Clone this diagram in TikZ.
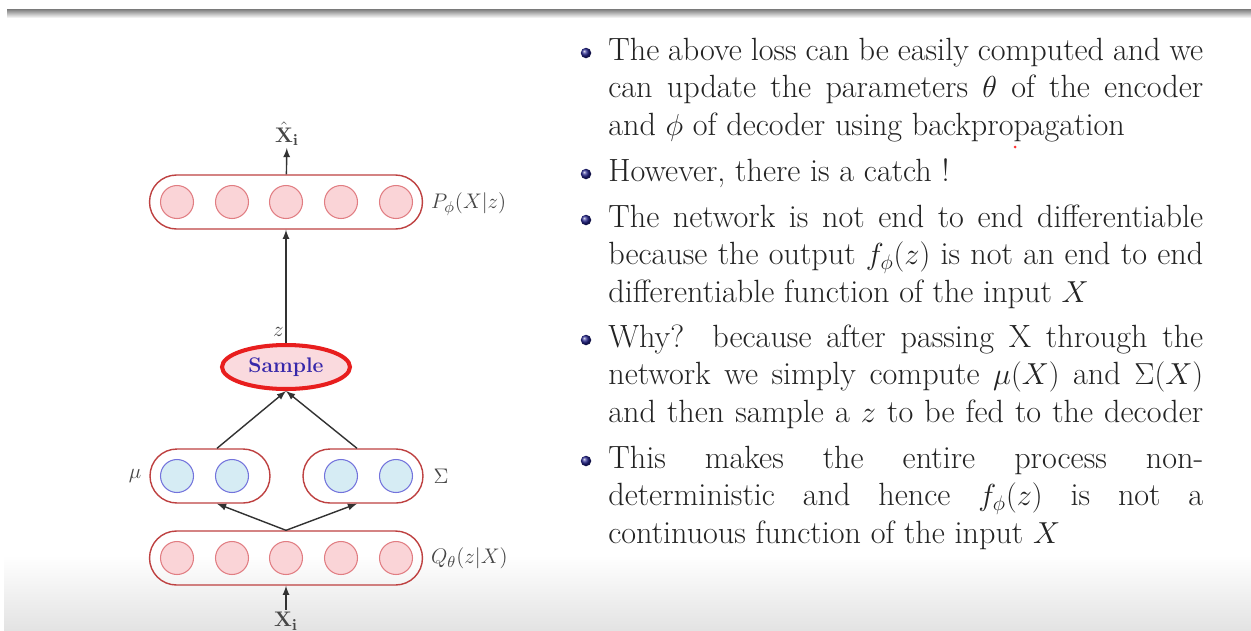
\documentclass[tikz,border=0pt]{standalone}
\usetikzlibrary{shapes.geometric}

\definecolor{layerred}{RGB}{190,65,65}
\definecolor{unitfill}{RGB}{250,212,215}
\definecolor{unitedge}{RGB}{225,125,130}
\definecolor{gaussfill}{RGB}{214,236,244}
\definecolor{gaussedge}{RGB}{115,115,220}
\definecolor{smpred}{RGB}{232,30,30}
\definecolor{smpfill}{RGB}{250,218,222}
\definecolor{smptext}{RGB}{55,40,170}
\definecolor{linkgray}{RGB}{50,50,50}
\definecolor{lblgray}{RGB}{70,70,70}
\definecolor{txtgray}{RGB}{35,35,35}
\definecolor{ballblue}{RGB}{35,35,140}

\begin{document}
\begin{tikzpicture}[x=0.02cm, y=-0.02cm, >=latex,
  layer/.style = {draw=layerred, line width=0.8pt, rounded corners=0.54cm, minimum width=5.46cm, minimum height=1.08cm},
  half/.style = {layer, minimum width=2.4cm},
  unit/.style = {draw=unitedge, fill=unitfill, circle, inner sep=0pt, minimum size=0.66cm, line width=0.6pt},
  gauss/.style = {unit, draw=gaussedge, fill=gaussfill},
  lbl/.style = {text=lblgray, inner sep=1pt, font=\fontsize{13}{15}\selectfont},
  link/.style = {->, draw=linkgray, line width=0.8pt},
  item/.style = {anchor=base west, text width=11.9cm, align=justify, inner sep=0pt, text=txtgray, font=\fontsize{18.3}{21.4}\selectfont},
  ball/.style = {circle, inner sep=0pt, minimum size=0.21cm, shade, shading=ball, ball color=ballblue}]
  \useasboundingbox (0,0) rectangle (1251,630);
  \fill[white] (0,0) rectangle (1251,630);
  \shade[top color=black!52, bottom color=white] (7,9) rectangle (1251,18);
  \shade[top color=white, bottom color=black!11] (4,555) rectangle (1251,630);

  % decoder
  \node[layer] (dec) at (286,202) {};
  \foreach \i/\x in {1/177,2/232,3/286,4/341,5/396}
    \node[unit] (d\i) at (\x,202) {};
  \node[lbl, anchor=west] (plbl) at (429,204) {$P_\phi(X|z)$};
  \node[lbl] (xhat) at (287,134) {$\hat{\mathbf{X}}_\mathbf{i}$};

  % sampling
  \node[ellipse, draw=smpred, line width=2.3pt, fill=smpfill, minimum width=2.56cm, minimum height=0.88cm, font=\fontsize{12}{14}\selectfont\bfseries, text=smptext] (smp) at (286,367) {Sample};

  % mean and covariance
  \node[half] (mu) at (210,476) {};
  \node[half] (sig) at (363,476) {};
  \foreach \i/\x in {1/177,2/232}
    \node[gauss] (m\i) at (\x,476) {};
  \foreach \i/\x in {1/341,2/396}
    \node[gauss] (s\i) at (\x,476) {};
  \node[lbl] (mulbl) at (135,476) {$\mu$};
  \node[lbl] (siglbl) at (441,476) {$\Sigma$};

  % encoder
  \node[layer] (enc) at (286,558) {};
  \foreach \i/\x in {1/177,2/232,3/286,4/341,5/396}
    \node[unit] (e\i) at (\x,558) {};
  \node[lbl, anchor=west] (qlbl) at (429,558) {$Q_\theta(z|X)$};
  \node[lbl] (xin) at (286,621) {$\mathbf{X}_\mathbf{i}$};

  \draw[link] (xin) -- (enc);
  \draw[link] (enc.north) -- ([xshift=0.14cm]mu.south);
  \draw[link] (enc.north) -- ([xshift=-0.12cm]sig.south);
  \draw[link] ([xshift=0.14cm]mu.north) -- (smp.south);
  \draw[link] ([xshift=-0.12cm]sig.north) -- (smp.south);
  \draw[link] (smp) -- node[lbl, left, pos=0.1] (zl) {$z$} (dec);
  \draw[link] (dec) -- (xhat);

  % bullets
  \node[ball] (b1) at (586,53) {};
  \node[ball] (b2) at (586,174) {};
  \node[ball] (b3) at (586,220) {};
  \node[ball] (b4) at (586,340) {};
  \node[ball] (b5) at (586,461) {};

  \node[item] (p1) at (608,60) {The above loss can be easily computed and we\linebreak
    can update the parameters $\theta$ of the encoder\linebreak
    and $\phi$ of decoder using backpropagation};
  \node[item] (p2) at (608,181) {However, there is a catch !};
  \node[item] (p3) at (608,227) {The network is not end to end differentiable\linebreak
    because the output $f_\phi(z)$ is not an end to end\linebreak
    differentiable function of the input $X$};
  \node[item] (p4) at (608,347) {\parfillskip=0pt Why?  because after passing X through the\linebreak
    network we simply compute $\mu(X)$ and $\Sigma(X)$\linebreak
    and then sample a $z$ to be fed to the decoder\par};
  \node[item] (p5) at (608,468) {This makes the entire process non-\linebreak
    deterministic and hence $f_\phi(z)$ is not a\linebreak
    continuous function of the input $X$};
  \fill[red!80] (1015,147) circle (1.5);
\end{tikzpicture}
\end{document}
